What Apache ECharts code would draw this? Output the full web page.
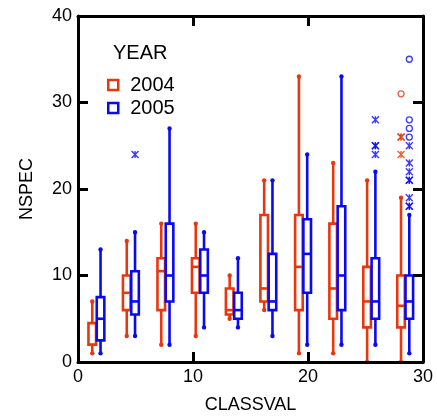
<!DOCTYPE html>
<html>
<head>
<meta charset="utf-8">
<script src="https://cdn.jsdelivr.net/npm/echarts@6/dist/echarts.min.js"></script>
<style>html,body{margin:0;padding:0;background:#fff;}#c{width:437px;height:416px;}</style>
</head>
<body>
<div id="c"></div>
<script>
// CLASSVAL group centres
const classval = [1.6, 4.6, 7.6, 10.6, 13.55, 16.55, 19.57, 22.55, 25.5, 28.45];
// [min, Q1, median, Q3, max]
const stats2004 = [
  [1, 2, 2, 4.5, 7],
  [3, 6, 8, 10, 14],
  [2, 6, 10.5, 12, 16],
  [3, 8, 11, 12, 16],
  [5, 5.5, 6, 8.5, 10],
  [6, 7, 8.5, 17, 21],
  [1, 6, 11, 17, 33],
  [1, 5, 8.5, 16, 23],
  [0, 4, 7, 11, 21],
  [0, 4, 6.5, 10, 19]
];
const stats2005 = [
  [1, 2.5, 5, 7.5, 13],
  [3, 5.5, 7, 10.5, 15],
  [2, 7, 10, 16, 27],
  [4, 8, 10, 13, 15],
  [4, 5, 6, 8, 12],
  [3, 6, 7, 12.5, 21],
  [2, 8, 12.5, 16.5, 24],
  [2, 6, 10, 18, 33],
  [2, 5, 7, 12, 22],
  [1, 5, 7, 10, 17]
];
// outliers: [group index, NSPEC]
const near2004 = [[9, 26], [9, 26], [9, 24]];
const far2004 = [[9, 31]];
const near2005 = [[1, 24], [8, 28], [8, 25], [8, 25], [8, 24],
  [9, 25], [9, 23], [9, 22], [9, 21], [9, 21], [9, 19], [9, 18], [9, 18]];
const far2005 = [[9, 35], [9, 28], [9, 27], [9, 26]];
const years = ['2004', '2005'];
const xTicks = [0, 10, 20, 30];
const yTicks = [0, 10, 20, 30, 40];

const RED = '#e8360e';
const BLUE = '#0a0af0';
const OFF = 0.36;
const FONT = "'Liberation Sans', Arial, sans-serif";

function makeRender(color) {
  return function (params, api) {
    const x = api.value(0);
    const hw = api.size([0.33, 0])[0];
    const pMin = api.coord([x, api.value(1)]);
    const pQ1 = api.coord([x, api.value(2)]);
    const pMed = api.coord([x, api.value(3)]);
    const pQ3 = api.coord([x, api.value(4)]);
    const pMax = api.coord([x, api.value(5)]);
    const cx = pMed[0];
    const ls = { stroke: color, lineWidth: 2.6, fill: 'none' };
    return {
      type: 'group',
      children: [
        { type: 'line', shape: { x1: cx, y1: pMin[1], x2: cx, y2: pQ1[1] }, style: ls },
        { type: 'line', shape: { x1: cx, y1: pQ3[1], x2: cx, y2: pMax[1] }, style: ls },
        { type: 'rect', shape: { x: cx - hw, y: pQ3[1], width: 2 * hw, height: pQ1[1] - pQ3[1] }, style: ls },
        { type: 'line', shape: { x1: cx - hw, y1: pMed[1], x2: cx + hw, y2: pMed[1] }, style: ls },
        { type: 'circle', shape: { cx: cx, cy: pMin[1], r: 2.2 }, style: { fill: color } },
        { type: 'circle', shape: { cx: cx, cy: pMax[1], r: 2.2 }, style: { fill: color } }
      ]
    };
  };
}

const data2004 = stats2004.map((s, i) => [classval[i] - OFF].concat(s));
const data2005 = stats2005.map((s, i) => [classval[i] + OFF].concat(s));
const pts = (arr, off) => arr.map(d => [classval[d[0]] + off, d[1]]);

const ASTER = 'path://M0,0L10,10M10,0L0,10M5,0L5,10';

const axisCommon = {
  type: 'value', min: 0, max: 30, interval: 10,
  axisLine: { show: true, onZero: false, lineStyle: { color: '#000', width: 3 } },
  axisTick: { show: true, inside: true, length: 10, lineStyle: { color: '#000', width: 3 } },
  splitLine: { show: false }, z: 10
};

const chart = echarts.init(document.getElementById('c'), null, { renderer: 'canvas' });
chart.setOption({
  animation: false,
  backgroundColor: '#fff',
  textStyle: { fontFamily: FONT },
  title: {
    text: 'YEAR', left: 108, top: 38,
    textStyle: { fontSize: 20, fontWeight: 'normal', color: '#000', fontFamily: FONT }
  },
  legend: {
    orient: 'vertical', left: 107, top: 75, padding: 0,
    itemWidth: 10, itemHeight: 10, itemGap: 3, icon: 'rect',
    textStyle: { fontSize: 20, color: '#000', fontFamily: FONT, lineHeight: 20, padding: [0, 0, 0, 7] },
    data: [
      { name: years[0], itemStyle: { color: '#fff', borderColor: RED, borderWidth: 2.5 } },
      { name: years[1], itemStyle: { color: '#fff', borderColor: BLUE, borderWidth: 2.5 } }
    ]
  },
  grid: { left: 78, right: 14, top: 16, bottom: 54, containLabel: false, outerBoundsMode: 'none' },
  xAxis: [
    Object.assign({}, axisCommon, {
      position: 'bottom', name: 'CLASSVAL', nameLocation: 'middle', nameGap: 34,
      nameTextStyle: { fontSize: 18, color: '#000', fontFamily: FONT },
      axisLabel: { fontSize: 18, color: '#000', margin: 6, fontFamily: FONT,
        formatter: v => xTicks.includes(v) ? String(v) : '' }
    }),
    Object.assign({}, axisCommon, { position: 'top', axisLabel: { show: false } })
  ],
  yAxis: [
    Object.assign({}, axisCommon, {
      min: 0, max: 40, position: 'left', name: 'NSPEC', nameLocation: 'middle', nameGap: 42,
      nameTextStyle: { fontSize: 18, color: '#000', fontFamily: FONT },
      axisLabel: { fontSize: 18, color: '#000', margin: 6, fontFamily: FONT,
        formatter: v => yTicks.includes(v) ? String(v) : '' }
    }),
    Object.assign({}, axisCommon, { min: 0, max: 40, position: 'right', axisLabel: { show: false } })
  ],
  series: [
    { name: years[0], type: 'custom', renderItem: makeRender(RED), data: data2004,
      encode: { x: 0, y: [1, 2, 3, 4, 5] }, itemStyle: { color: RED }, z: 2 },
    { name: years[1], type: 'custom', renderItem: makeRender(BLUE), data: data2005,
      encode: { x: 0, y: [1, 2, 3, 4, 5] }, itemStyle: { color: BLUE }, z: 3 },
    { name: 'o2004a', type: 'scatter', data: pts(near2004, -OFF), symbol: ASTER, symbolSize: 7,
      itemStyle: { color: 'transparent', borderColor: RED, borderWidth: 1.4 }, z: 4 },
    { name: 'o2004b', type: 'scatter', data: pts(far2004, -OFF), symbol: 'circle', symbolSize: 6,
      itemStyle: { color: 'transparent', borderColor: RED, borderWidth: 1.3 }, z: 4 },
    { name: 'o2005a', type: 'scatter', data: pts(near2005, OFF), symbol: ASTER, symbolSize: 7,
      itemStyle: { color: 'transparent', borderColor: BLUE, borderWidth: 1.4 }, z: 4 },
    { name: 'o2005b', type: 'scatter', data: pts(far2005, OFF), symbol: 'circle', symbolSize: 6,
      itemStyle: { color: 'transparent', borderColor: BLUE, borderWidth: 1.3 }, z: 4 }
  ]
});
</script>
</body>
</html>
